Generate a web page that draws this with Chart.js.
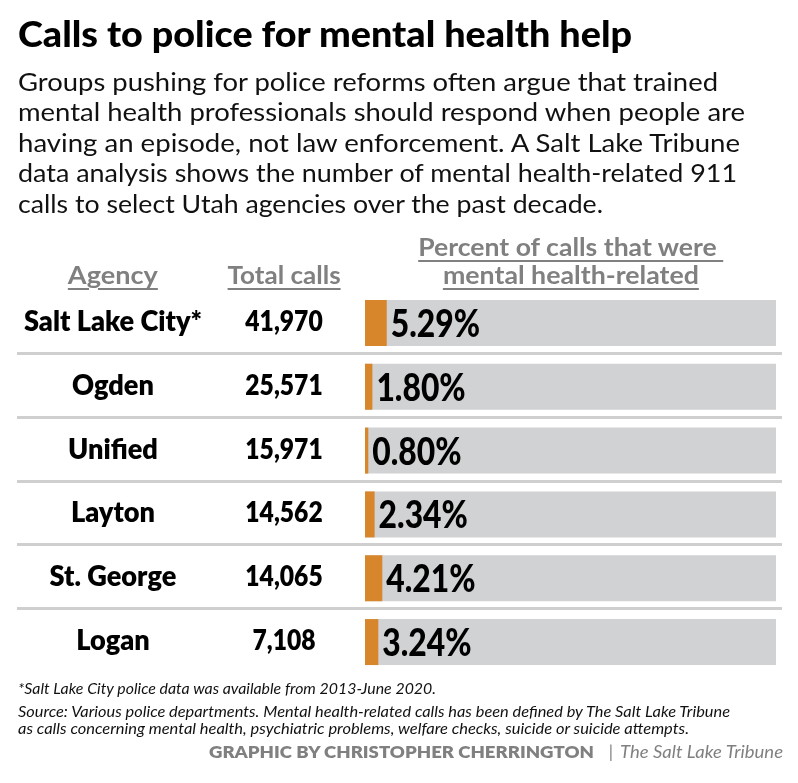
<!DOCTYPE html>
<html>
<head>
<meta charset="utf-8">
<title>Calls to police for mental health help</title>
<script src="https://cdn.jsdelivr.net/npm/chart.js@4"></script>
<style>
  html, body { margin: 0; padding: 0; background: #fff; }
  #page { position: relative; width: 798px; height: 783px; overflow: hidden; font-family: Lato, "Open Sans", sans-serif; color: #111; }
  #chart { position: absolute; left: 0; top: 0; }
  .t { position: absolute; left: 0; top: 0; white-space: nowrap; line-height: 1; }
  .title { font-size: 36px; font-weight: 900; color: #000; }
  .sub { font-size: 25px; font-weight: 400; color: #111; }
  .head { font-size: 24px; font-weight: 700; color: #808080; text-decoration: underline; text-decoration-thickness: 2px; text-underline-offset: 4px; }
  .note { font-size: 15px; font-style: italic; color: #111; }
  .credit { font-size: 17px; font-weight: 800; color: #808080; }
  .credit-i { font-size: 17px; font-style: italic; color: #808080; }
</style>
</head>
<body>
<div id="page">
  <canvas id="chart" width="798" height="783"></canvas>

  <div class="t title" data-x="18" data-b="47" data-w="614">Calls to police for mental health help</div>

  <div class="t sub" data-x="18" data-b="91" data-w="700">Groups pushing for police reforms often argue that trained</div>
  <div class="t sub" data-x="18" data-b="121" data-w="727">mental health professionals should respond when people are</div>
  <div class="t sub" data-x="18" data-b="152" data-w="722">having an episode, not law enforcement. A Salt Lake Tribune</div>
  <div class="t sub" data-x="18" data-b="182" data-w="719">data analysis shows the number of mental health-related 911</div>
  <div class="t sub" data-x="18" data-b="213" data-w="585">calls to select Utah agencies over the past decade.</div>

  <div class="t head" data-x="113" data-b="284" data-w="90" data-align="center">Agency</div>
  <div class="t head" data-x="284" data-b="284" data-w="113" data-align="center">Total calls</div>
  <div class="t head" data-x="571" data-b="256" data-w="305" data-align="center">Percent of calls that were&nbsp;</div>
  <div class="t head" data-x="571" data-b="284" data-w="256" data-align="center">mental health-related</div>

  <div class="t note" data-x="18" data-b="694" data-w="418">*Salt Lake City police data was available from 2013-June 2020.</div>
  <div class="t note" data-x="18" data-b="717" data-w="712">Source: Various police departments. Mental health-related calls has been defined by The Salt Lake Tribune</div>
  <div class="t note" data-x="18" data-b="734" data-w="671">as calls concerning mental health, psychiatric problems, welfare checks, suicide or suicide attempts.</div>

  <div class="t credit" data-x="209" data-b="758" data-w="385">GRAPHIC BY CHRISTOPHER CHERRINGTON</div>
  <div class="t credit-i" data-x="611" data-b="758" data-align="center" style="font-style:normal">|</div>
  <div class="t credit-i" data-x="620" data-b="758" data-w="163">The Salt Lake Tribune</div>
</div>

<script>
// data read from the graphic
const agencies = ['Salt Lake City*', 'Ogden', 'Unified', 'Layton', 'St. George', 'Logan'];
const totalCalls = [41970, 25571, 15971, 14562, 14065, 7108];
const mentalHealthPct = [5.29, 1.80, 0.80, 2.34, 4.21, 3.24];
const fullScale = [100, 100, 100, 100, 100, 100];

// place html text by baseline and squeeze it to the reference width
const ASC = 0.887;
document.querySelectorAll('.t').forEach(el => {
  const fs = parseFloat(getComputedStyle(el).fontSize);
  const w = el.getBoundingClientRect().width;
  const x = +el.dataset.x, b = +el.dataset.b;
  const s = el.dataset.w ? +el.dataset.w / w : 1;
  const align = el.dataset.align || 'left';
  el.style.top = (b - ASC * fs) + 'px';
  if (align === 'center') {
    el.style.left = (x - w / 2) + 'px';
    el.style.transformOrigin = 'center top';
  } else {
    el.style.left = x + 'px';
    el.style.transformOrigin = 'left top';
  }
  el.style.transform = 'scaleX(' + s + ')';
});

function drawText(ctx, text, x, y, font, align, sx) {
  ctx.save();
  ctx.font = font;
  ctx.textAlign = align;
  ctx.textBaseline = 'alphabetic';
  ctx.translate(x, y);
  ctx.scale(sx, 1);
  ctx.fillText(text, 0, 0);
  ctx.restore();
}

// separators, agency name, total calls and percent label for each row
const rowText = {
  id: 'rowText',
  afterDatasetsDraw(chart) {
    const { ctx, scales: { x, y } } = chart;
    ctx.save();
    ctx.strokeStyle = '#cfcfcf';
    ctx.lineWidth = 3;
    for (let i = 0; i < agencies.length - 1; i++) {
      const yy = Math.round((y.getPixelForValue(i) + y.getPixelForValue(i + 1)) / 2) - 1.5;
      ctx.beginPath();
      ctx.moveTo(17, yy);
      ctx.lineTo(782, yy);
      ctx.stroke();
    }
    ctx.fillStyle = '#000';
    agencies.forEach((name, i) => {
      const cy = y.getPixelForValue(i);
      drawText(ctx, name, 113, cy + 8, '800 28px Lato', 'center', 0.97);
      drawText(ctx, totalCalls[i].toLocaleString('en-US'), 284, cy + 8, '800 28px Lato', 'center', 0.88);
      drawText(ctx, mentalHealthPct[i].toFixed(2) + '%', x.getPixelForValue(mentalHealthPct[i]) + 4, cy + 14, '900 37px Lato', 'left', 0.86);
    });
    ctx.restore();
  }
};

new Chart(document.getElementById('chart'), {
  type: 'bar',
  data: {
    labels: agencies,
    datasets: [
      {
        label: 'Mental health-related',
        data: mentalHealthPct,
        backgroundColor: '#d8862b',
        grouped: false,
        order: 1,
        barPercentage: 0.72,
        categoryPercentage: 1
      },
      {
        label: 'All calls',
        data: fullScale,
        backgroundColor: '#d1d2d4',
        grouped: false,
        order: 2,
        barPercentage: 0.72,
        categoryPercentage: 1
      }
    ]
  },
  options: {
    indexAxis: 'y',
    responsive: false,
    animation: false,
    devicePixelRatio: 1,
    layout: { padding: { left: 365, right: 22, top: 291, bottom: 109 } },
    plugins: { legend: { display: false }, tooltip: { enabled: false } },
    scales: {
      x: { display: false, min: 0, max: 100 },
      y: { display: false }
    }
  },
  plugins: [rowText]
});
</script>
</body>
</html>
